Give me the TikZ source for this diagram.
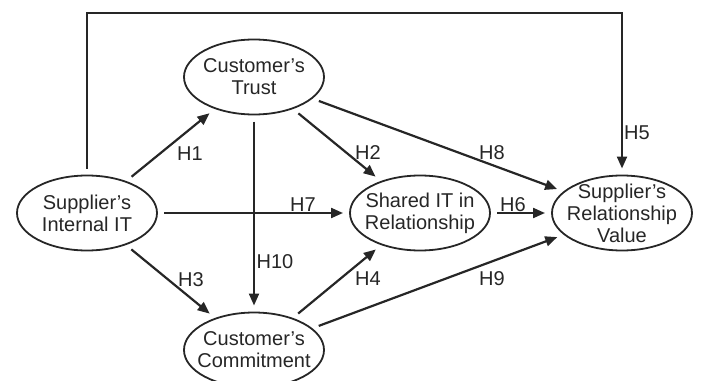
\documentclass[tikz,border=0pt]{standalone}
\usepackage{fontspec}
\setmainfont{Liberation Sans}
\usetikzlibrary{arrows.meta,shapes.geometric}
\definecolor{ink}{RGB}{38,38,38}

\begin{document}
\begin{tikzpicture}[
  x=1pt, y=-1pt,
  font=\fontsize{20}{22}\selectfont,
  construct/.style={draw=ink, ellipse, line width=1.8pt, minimum width=140pt,
    minimum height=75pt, inner sep=0pt, outer sep=7pt},
  ctext/.style={align=center, inner sep=0pt, text=ink},
  arr/.style={-{Triangle[length=12pt,width=10pt]}, draw=ink, line width=2.2pt},
  hlabel/.style={inner sep=1pt, text=ink}
]
\useasboundingbox (0,0) rectangle (701,380);

% constructs
\node[construct] (it) at (87,213) {};
\node[ctext] at (it) {Supplier's\\Internal IT};
\node[construct] (trust) at (254,77) {};
\node[ctext] at (trust) {Customer's\\Trust};
\node[construct] (commit) at (254,350) {};
\node[ctext] at (commit) {Customer's\\Commitment};
\node[construct] (shared) at (420,213) {};
\node[ctext] at (shared) {Shared IT in\\Relationship};
\node[construct] (value) at (622,213) {};
\node[ctext] at (value) {Supplier's\\Relationship\\Value};

% paths
\coordinate (top) at (350,13);
\draw[arr] (it.north) |- (top) -| (value.north);
\draw[arr] (it) -- (trust);
\draw[arr] (it) -- (commit);
\draw[arr] (it) -- (shared);
\draw[arr] (trust) -- (commit);
\draw[arr] (trust) -- (shared);
\draw[arr] (trust) -- (value);
\draw[arr] (commit) -- (shared);
\draw[arr] (commit) -- (value);
\draw[arr] (shared) -- (value);

% hypotheses
\node[hlabel] at (190,154) {H1};
\node[hlabel] at (368,153) {H2};
\node[hlabel] at (191,280) {H3};
\node[hlabel] at (368,279) {H4};
\node[hlabel] at (637,133) {H5};
\node[hlabel] at (513,205) {H6};
\node[hlabel] at (303,205) {H7};
\node[hlabel] at (492,153) {H8};
\node[hlabel] at (492,279) {H9};
\node[hlabel] at (275,262) {H10};
\end{tikzpicture}
\end{document}
